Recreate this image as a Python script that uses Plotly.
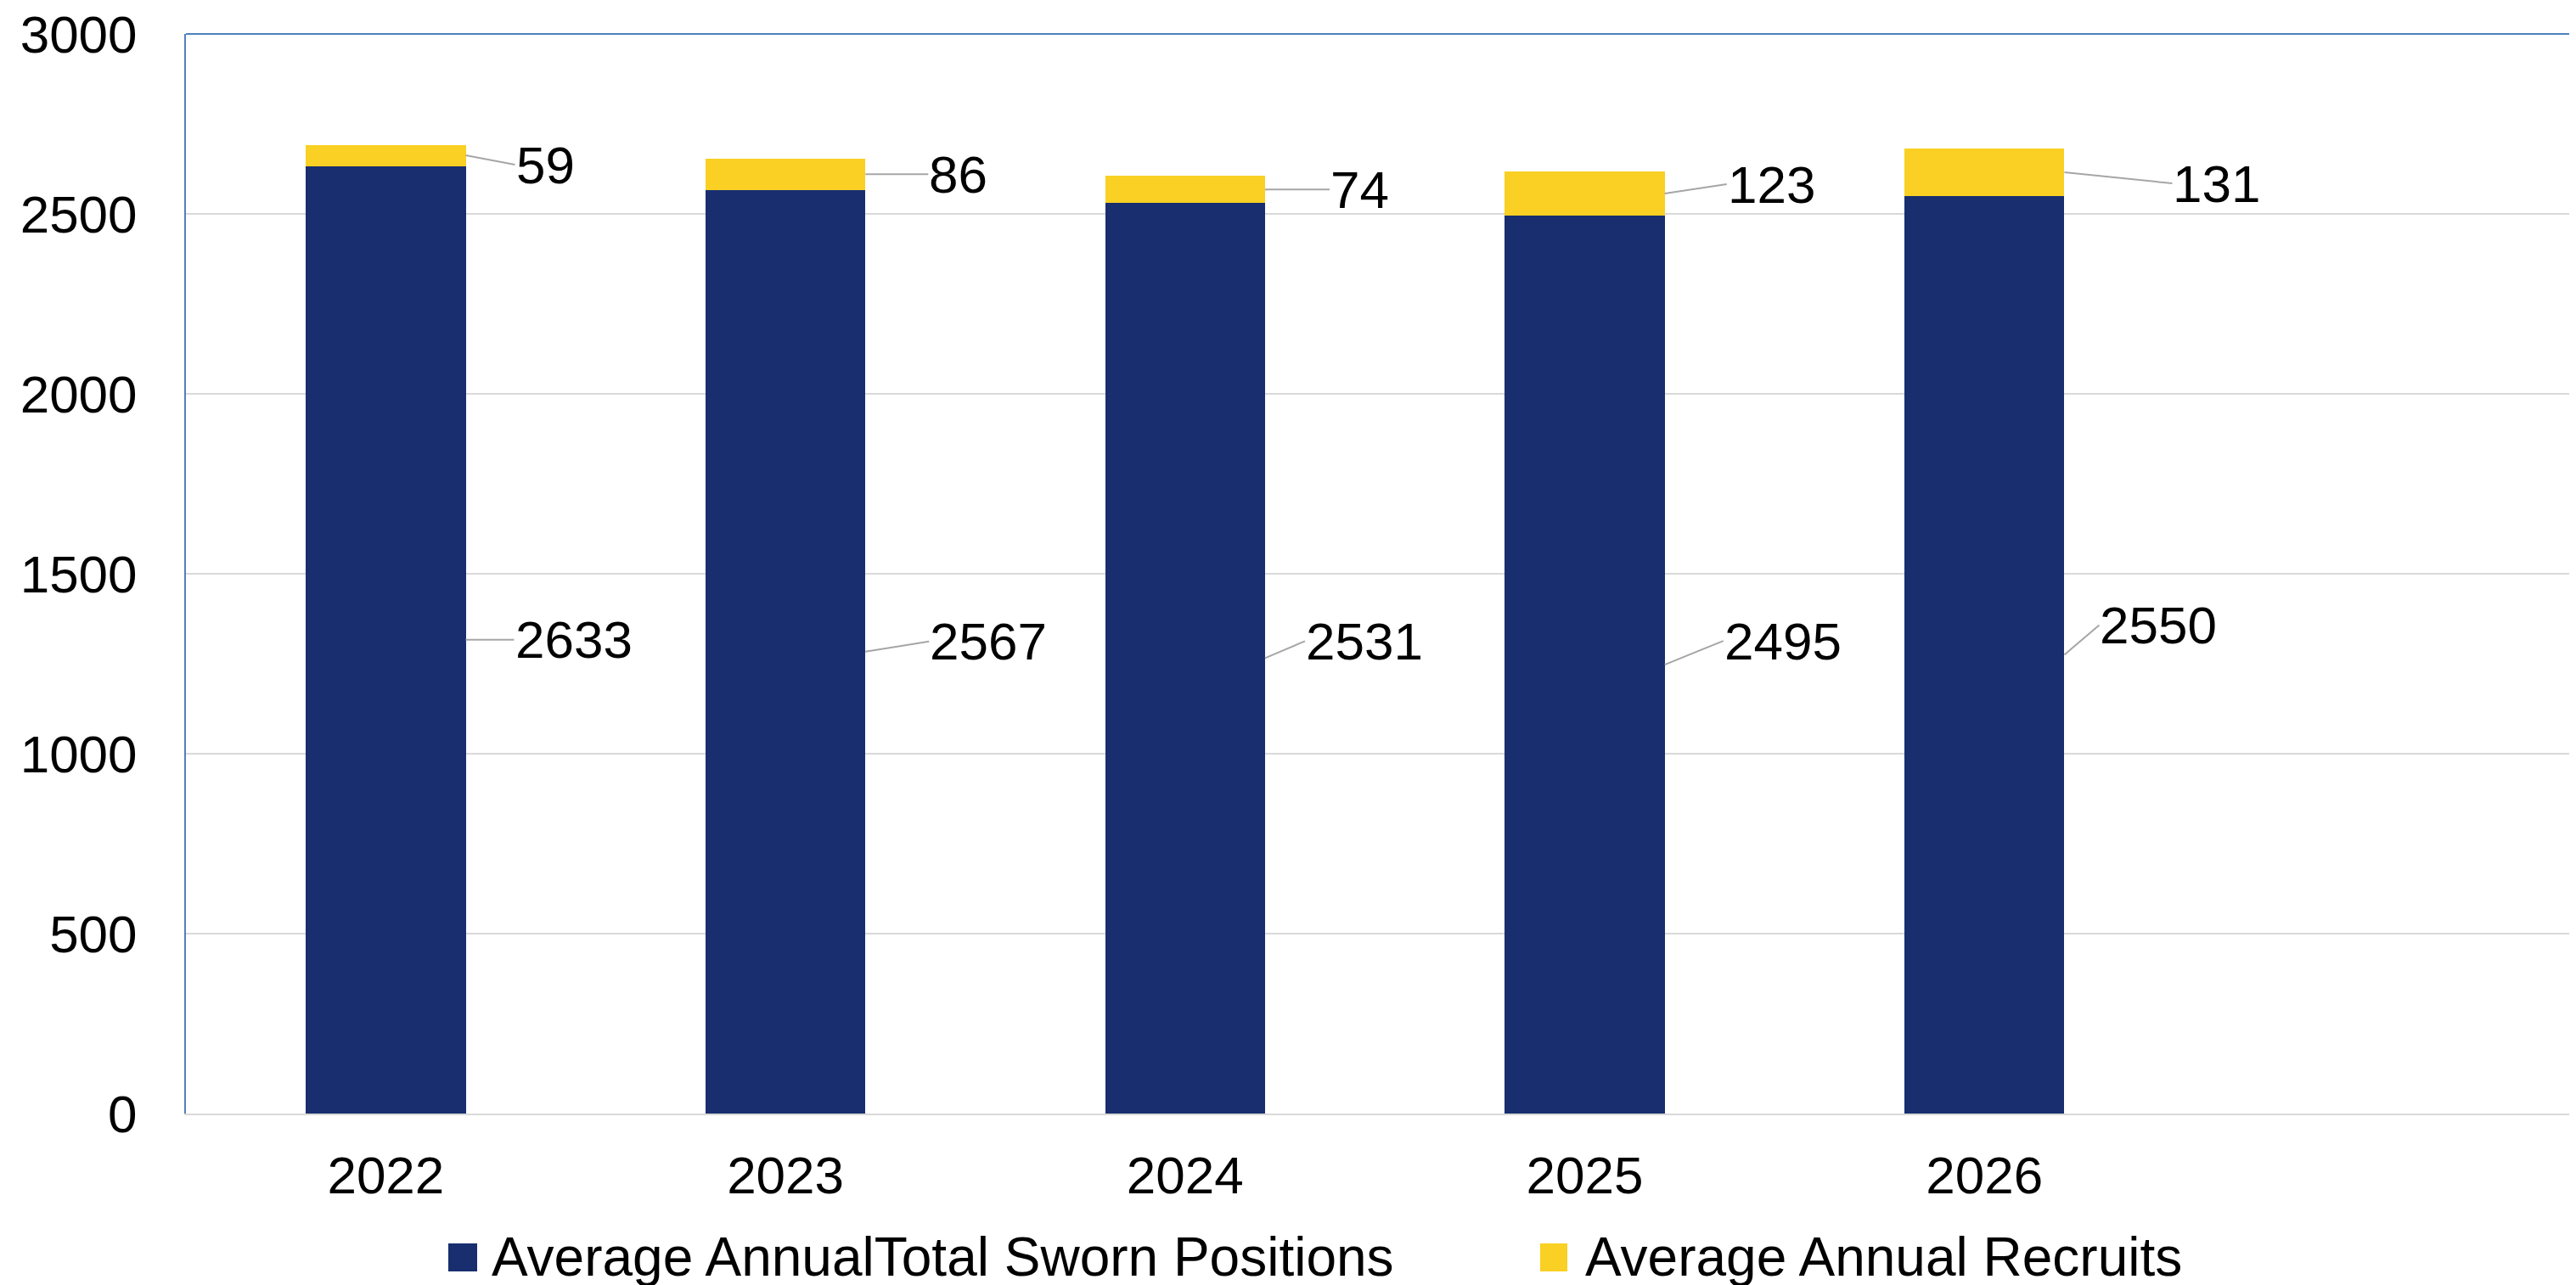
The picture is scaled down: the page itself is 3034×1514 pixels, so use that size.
import plotly.graph_objects as go

# ---- data ----
years = ["2022", "2023", "2024", "2025", "2026"]
sworn = [2633, 2567, 2531, 2495, 2550]
recruits = [59, 86, 74, 123, 131]
series_names = ["Average AnnualTotal Sworn Positions", "Average Annual Recruits"]
y_ticks = [0, 500, 1000, 1500, 2000, 2500, 3000]

# ---- style ----
NAVY = "#182E6F"
YELLOW = "#F9D023"
FONT = "Liberation Sans, Arial, sans-serif"
FS = 62
OFF = 8  # page body margin
W, H = 3034 - OFF, 1514 - OFF
ML, MT, MB, MR = 219 - OFF, 40 - OFF, 202, 0
PW, PH = W - ML - MR, H - MT - MB

# label offsets (pixels) from bar right edge / segment midpoint
sworn_off = [(57, 0), (75, -12), (47, -20), (69, -28), (41, -35)]
rec_off = [(58, 11), (74, 0), (76, 0), (73, -11), (127, 13)]

fig = go.Figure()
fig.add_trace(go.Bar(x=years, y=sworn, name=series_names[0], marker_color=NAVY,
                     marker_line_width=0, width=0.4, showlegend=False))
fig.add_trace(go.Bar(x=years, y=recruits, name=series_names[1], marker_color=YELLOW,
                     marker_line_width=0, width=0.4, showlegend=False))

annotations = []
for i, (s, r) in enumerate(zip(sworn, recruits)):
    for val, base, (ax, ay) in ((s, 0, sworn_off[i]), (r, s, rec_off[i])):
        annotations.append(dict(
            x=i + 0.2, y=base + val / 2, xref="x", yref="y",
            text=str(val), showarrow=True, arrowhead=0, arrowwidth=2,
            arrowcolor="#A6A6A6", ax=ax, ay=ay, xanchor="left", yanchor="middle",
            font=dict(family=FONT, size=FS, color="#000000"), borderpad=0,
        ))

# manual legend (large square swatches); positions given in page pixels
def px_x(px):
    return (px - OFF - ML) / PW

def px_y(py):
    return (H - MB - (py - OFF)) / PH

shapes = [
    dict(type="line", xref="paper", yref="paper", x0=0, x1=1, y0=1, y1=1,
         line=dict(color="#4F81BD", width=2)),
]
legend_items = [(528, 562, 577, NAVY, series_names[0]), (1814, 1846, 1865, YELLOW, series_names[1])]
for x0, x1, tx, col, name in legend_items:
    shapes.append(dict(type="rect", xref="paper", yref="paper",
                       x0=px_x(x0), x1=px_x(x1), y0=px_y(1498), y1=px_y(1465),
                       fillcolor=col, line=dict(width=0)))
    annotations.append(dict(x=px_x(tx), y=px_y(1481), xref="paper", yref="paper",
                            text=name, showarrow=False, xanchor="left", yanchor="middle",
                            font=dict(family=FONT, size=64, color="#000000")))

fig.update_layout(
    barmode="stack",
    width=W, height=H,
    margin=dict(l=ML, r=MR, t=MT, b=MB, pad=0, autoexpand=False),
    paper_bgcolor="white", plot_bgcolor="white",
    font=dict(family=FONT, size=FS, color="#000000"),
    bargap=0.6,
    annotations=annotations,
    shapes=shapes,
    xaxis=dict(type="category", categoryorder="array", categoryarray=years,
               range=[-0.5, 5.48], showgrid=False, showline=True,
               linecolor="#D9D9D9", linewidth=2, ticks="",
               tickfont=dict(family=FONT, size=FS, color="#000000"),
               ticklabelstandoff=18, zeroline=False, automargin=False,
               ticklabeloverflow="allow"),
    yaxis=dict(range=[0, 3000], tickvals=y_ticks, showgrid=True,
               gridcolor="#D9D9D9", gridwidth=2, showline=True,
               linecolor="#4F81BD", linewidth=2, ticks="", zeroline=False,
               tickfont=dict(family=FONT, size=FS, color="#000000"),
               ticklabelstandoff=43, automargin=False,
               ticklabeloverflow="allow"),
    showlegend=False,
)

fig.write_html("out.html")
